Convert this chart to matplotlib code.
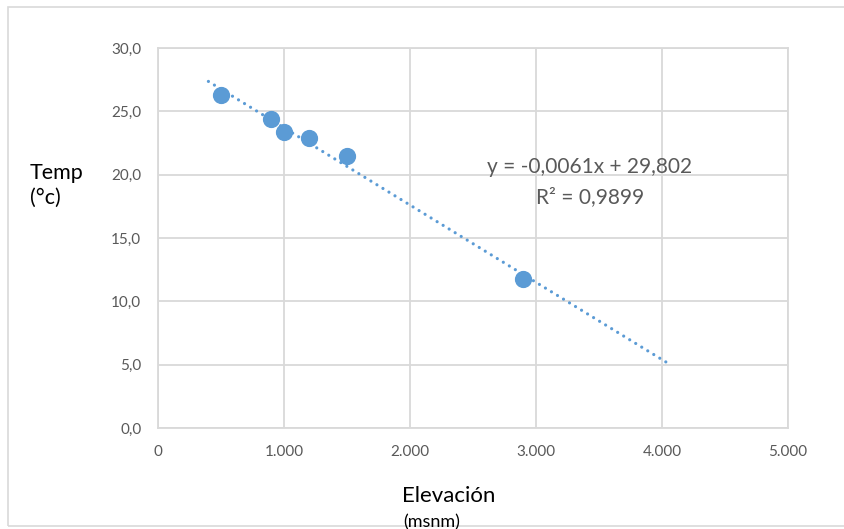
import matplotlib
matplotlib.use('Agg')
import matplotlib.pyplot as plt
from matplotlib.ticker import FuncFormatter, MultipleLocator
from matplotlib.patches import Rectangle
import numpy as np

# data
elevation = [500, 900, 1000, 1200, 1500, 2900]
temp = [26.3, 24.4, 23.4, 22.9, 21.5, 11.8]

# trendline as shown on the chart
slope = -0.0061
intercept = 29.802
r2 = 0.9899
trend_start = 400
trend_end = 4050

eq_text = 'y = -0,0061x + 29,802'
r2_text = 'R² = 0,9899'

plt.rcParams['font.family'] = ['Lato', 'DejaVu Sans']

blue = '#5B9BD5'
grey_txt = '#595959'
grid_col = '#D9D9D9'

fig = plt.figure(figsize=(8.44, 5.29), dpi=100)
ax = fig.add_axes([158/844, 1 - 428/529, (788 - 158)/844, (428 - 48)/529])

# outer chart border
fig.patches.append(Rectangle((8/844, 3/529), 1.0, 1 - 10/529, transform=fig.transFigure,
                             fill=False, edgecolor=grid_col, linewidth=1.2))

tx = np.array([trend_start, trend_end])
ax.plot(tx, slope * tx + intercept, color=blue, linewidth=2.3,
        linestyle=(0, (0.01, 2.2)), dash_capstyle='round', zorder=2)
ax.scatter(elevation, temp, s=130, color=blue, edgecolors=blue, zorder=3)

ax.set_xlim(0, 5000)
ax.set_ylim(0, 30)
ax.xaxis.set_major_locator(MultipleLocator(1000))
ax.yaxis.set_major_locator(MultipleLocator(5))
ax.xaxis.set_major_formatter(FuncFormatter(lambda v, p: f'{int(v):,}'.replace(',', '.')))
ax.yaxis.set_major_formatter(FuncFormatter(lambda v, p: f'{v:.1f}'.replace('.', ',')))
ax.grid(True, color=grid_col, linewidth=1.3)
ax.set_axisbelow(True)
for sp in ax.spines.values():
    sp.set_color(grid_col)
    sp.set_linewidth(1.3)
ax.tick_params(length=0, labelsize=11, labelcolor=grey_txt, pad=12)

fig.text(30/844, 1 - 185/529, 'Temp\n(°c)', fontsize=15.5, color='black',
         ha='left', va='center', linespacing=1.3)
fig.text(449/844, 1 - 496/529, 'Elevación', fontsize=16, color='black', ha='center', va='center')
fig.text(432/844, 1 - 522/529, '(msnm)', fontsize=13, color='black', ha='center', va='center')

ax.text(590/844, 1 - 167/529, eq_text, transform=fig.transFigure, fontsize=15,
        color=grey_txt, ha='center', va='center')
ax.text(590/844, 1 - 197/529, r2_text, transform=fig.transFigure, fontsize=15,
        color=grey_txt, ha='center', va='center')

fig.savefig('out.png', dpi=100)
